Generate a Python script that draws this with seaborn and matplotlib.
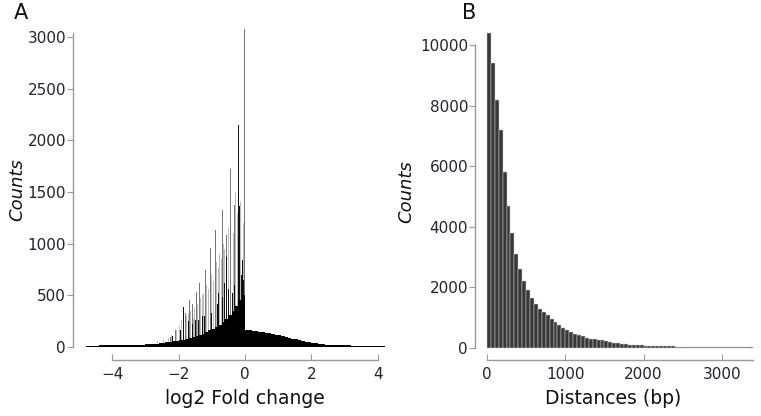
import numpy as np
import pandas as pd
import matplotlib
matplotlib.use("Agg")
import matplotlib.pyplot as plt
import seaborn as sns

# ---- panel A: log2 fold change, bulk counts per 0.1 bin starting at -4.8
FC_START = -4.8
FC_STEP = 0.1
fc_base_counts = [
    14, 14, 14, 14, 15, 15, 15, 15,                       # -4.8 .. -4.0
    15, 16, 16, 17, 17, 18, 19, 20, 22, 24,               # -4.0 .. -3.0
    26, 28, 30, 33, 36, 40, 44, 48, 54, 60,               # -3.0 .. -2.0
    66, 72, 80, 88, 96, 106, 116, 128, 142, 160,          # -2.0 .. -1.0
    178, 196, 216, 240, 270, 305, 345, 395, 450, 500,     # -1.0 ..  0.0
    168, 163, 158, 153, 148, 143, 138, 132, 126, 120,     #  0.0 ..  1.0
    113, 106, 98, 90, 82, 74, 66, 58, 51, 45,             #  1.0 ..  2.0
    39, 34, 30, 26, 23, 20, 18, 17, 16, 15,               #  2.0 ..  3.0
    15, 15, 14, 14, 14, 14, 14, 14, 14, 14, 14, 14, 14,   #  3.0 ..  4.3
]

# tall isolated spikes (thin, greyish)
fc_spike_pos = [-0.02, -0.10, -0.30, -0.45, -0.57, -0.68, -0.90, -1.05,
                -1.20, -1.36, -1.46, -1.58, -1.66, -1.80, -2.10, -2.25]
fc_spike_counts = [3080, 1770, 1370, 1720, 1080, 1330, 1130, 955,
                   745, 620, 535, 420, 455, 330, 165, 100]

# shorter dark spikes inside the bulk
fc_dark_pos = [-0.20, -0.17, -0.07, -0.25, -0.40, -0.55, -0.62, -0.78,
               -0.97, -1.12, -1.30, -1.50, -1.86, -2.00,
               -0.12, -0.32, -0.48, -0.70, -0.85, -1.02, -1.22, -1.40,
               -1.60, -1.72, -1.95, -2.20, -0.04, -0.36, -0.52]
fc_dark_counts = [2150, 1360, 840, 1260, 715, 875, 620, 520,
                  425, 360, 300, 260, 390, 150,
                  700, 600, 560, 480, 420, 330, 300, 260,
                  220, 250, 160, 110, 650, 520, 470]

# light haze of intermediate spikes
fc_haze_pos = [-2.30, -2.20, -2.05, -1.95, -1.90, -1.75, -1.62, -1.55,
               -1.42, -1.33, -1.25, -1.15, -1.00, -0.95, -0.85, -0.80,
               -0.75, -0.65, -0.60, -0.50, -0.35, -0.27, -0.14, -0.05,
               -1.85, -1.68, -1.50, -1.10, -0.88, -0.42, -0.22,
               -2.45, -2.61, -1.28, -0.71, -0.56]
fc_haze_counts = [90, 120, 160, 200, 260, 300, 350, 280,
                  420, 470, 520, 600, 700, 640, 820, 760,
                  900, 1000, 950, 1150, 1100, 1500, 1400, 1200,
                  240, 330, 380, 560, 780, 1050, 1300,
                  80, 60, 500, 850, 700]

# ---- panel B: distances, counts per 50 bp bin starting at 0
DIST_STEP = 50
dist_counts = [
    10400, 9400, 8200, 7200, 5800, 4700, 3800, 3100, 2600, 2200,
    1900, 1650, 1450, 1300, 1200, 1100, 950, 850, 750, 650,
    580, 520, 460, 420, 380, 340, 310, 290, 270, 250,
    230, 200, 180, 160, 140, 125, 110, 100, 92, 85,
    78, 72, 68, 64, 60, 57, 54, 51, 48, 46,
    44, 42, 40, 38, 36, 35, 34, 33, 32, 31,
    30, 29, 28, 27, 26, 25, 25, 24,
]

sns.set_theme(style="white")
plt.rcParams['font.family'] = ['DejaVu Sans']

W, H = 761, 416
fig = plt.figure(figsize=(W / 100, H / 100), dpi=100)

TXT = '#222230'


def frac_axes(x0, x1, ytop, ybot):
    return fig.add_axes([x0 / W, 1 - ybot / H, (x1 - x0) / W, (ybot - ytop) / H])


def style_axes(ax, xb, yb):
    for s in ['top', 'right']:
        ax.spines[s].set_visible(False)
    for s in ['left', 'bottom']:
        ax.spines[s].set_color('#9a9a9a')
        ax.spines[s].set_linewidth(1.0)
    ax.spines['bottom'].set_bounds(*xb)
    ax.spines['left'].set_bounds(*yb)
    ax.tick_params(axis='y', left=True, direction='out', length=4, width=0.8,
                   color='#9a9a9a', labelsize=11, labelcolor=TXT, pad=1)
    ax.tick_params(axis='x', bottom=True, direction='in', length=4, width=0.8,
                   color='#9a9a9a', labelsize=11, labelcolor=TXT, pad=5)
    ax.grid(False)
    ax.set_xlabel('')
    ax.set_ylabel('')


def layer(ax, pos, counts, width, color, **kw):
    df = pd.DataFrame({'x': pos, 'w': counts})
    sns.histplot(data=df, x='x', weights='w', binwidth=width,
                 binrange=(-4.8, 4.3), color=color, alpha=1, linewidth=0, ax=ax, **kw)


# ---------------- panel A
axA = frac_axes(73, 385, 25, 360)
base_x = [FC_START + FC_STEP * (i + 0.5) for i in range(len(fc_base_counts))]

layer(axA, fc_haze_pos, fc_haze_counts, 0.03, '#bdbdbd')
layer(axA, fc_spike_pos, fc_spike_counts, 0.025, '#777777')
layer(axA, fc_dark_pos, fc_dark_counts, 0.025, '#111111')
layer(axA, base_x, fc_base_counts, FC_STEP, 'black')

axA.set_xlim(-5.18, 4.22)
axA.set_ylim(-126, 3117)
axA.set_xticks([-4, -2, 0, 2, 4])
axA.set_yticks([0, 500, 1000, 1500, 2000, 2500, 3000])
style_axes(axA, (-4, 4), (0, 3040))

# ---------------- panel B
axB = frac_axes(475, 755, 30, 360)
dist_x = [DIST_STEP * (i + 0.5) for i in range(len(dist_counts))]
dfB = pd.DataFrame({'x': dist_x, 'w': dist_counts})
sns.histplot(data=dfB, x='x', weights='w', binwidth=DIST_STEP,
             binrange=(0, DIST_STEP * len(dist_counts)),
             color='#383838', alpha=1, edgecolor='#cfcfcf', linewidth=0.35, ax=axB)
axB.set_xlim(-153, 3423)
axB.set_ylim(-396, 10495)
axB.set_xticks([0, 1000, 2000, 3000])
axB.set_yticks([0, 2000, 4000, 6000, 8000, 10000])
style_axes(axB, (0, 3400), (0, 10000))

# ---------------- labels
fig.text(21 / W, 1 - 13 / H, 'A', fontsize=15, ha='center', va='center', color='#111111')
fig.text(469 / W, 1 - 13 / H, 'B', fontsize=15, ha='center', va='center', color='#111111')
fig.text(17 / W, 1 - 190 / H, 'Counts', rotation=90, style='italic', fontsize=13,
         ha='center', va='center', color='#111111')
fig.text(406 / W, 1 - 192 / H, 'Counts', rotation=90, style='italic', fontsize=13,
         ha='center', va='center', color='#111111')
fig.text(245 / W, 1 - 398 / H, 'log2 Fold change', fontsize=13.5,
         ha='center', va='center', color='#111111')
fig.text(613 / W, 1 - 398 / H, 'Distances (bp)', fontsize=13.5,
         ha='center', va='center', color='#111111')

fig.savefig('out.png', dpi=100)
